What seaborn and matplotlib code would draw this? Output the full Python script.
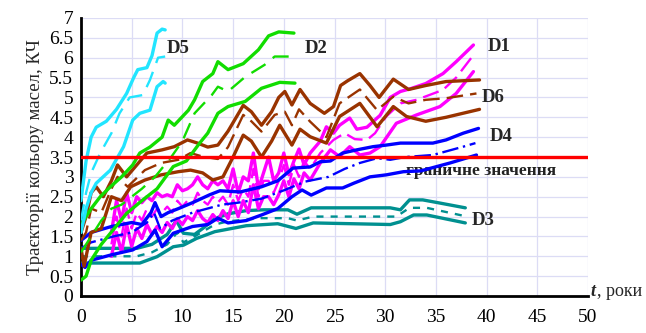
import matplotlib
matplotlib.use("Agg")
import matplotlib.pyplot as plt
import seaborn as sns
import numpy as np

# ---- data (t in years, colour index KЧ) ----
# D5 (cyan)
d5_hi_x = [0, 0.5, 1, 1.5, 2.5, 3.5, 4.5, 5.2, 5.6, 6.5, 7, 7.5, 8, 8.3]
d5_hi_y = [2.4, 3.4, 4.0, 4.25, 4.4, 4.7, 5.1, 5.5, 5.7, 5.75, 6.05, 6.62, 6.72, 6.7]
d5_md_x = [0, 0.5, 1, 1.9, 3, 3.8, 4.8, 6.1, 6.8, 7.6, 8.3]
d5_md_y = [1.9, 2.6, 3.1, 3.6, 4.1, 4.6, 5.0, 5.06, 5.44, 6.0, 6.03]
d5_lo_x = [0, 0.5, 1, 1.5, 2.9, 4.2, 5.1, 5.8, 6.8, 7.5, 8.1, 8.3]
d5_lo_y = [1.6, 2.2, 2.6, 2.84, 3.17, 3.76, 4.43, 4.6, 4.68, 5.27, 5.4, 5.36]

# D2 (green)
d2_hi_x = [0, 1, 1.9, 2.9, 4, 5.1, 5.8, 6.8, 8, 8.6, 9.2, 10.6, 11.2, 12, 13, 13.5, 14.5, 16, 17.5, 18.5, 19.5, 21]
d2_hi_y = [1.8, 2.2, 2.5, 2.75, 3.0, 3.3, 3.6, 3.75, 4.0, 4.43, 4.3, 4.68, 4.94, 5.4, 5.6, 5.9, 5.7, 5.85, 6.2, 6.55, 6.65, 6.62]
d2_md_x = [0, 1, 2, 3, 4, 5, 6, 7.3, 8.9, 10, 11.2, 12.9, 13.5, 14.5, 16.2, 18.1, 19.1, 21.1]
d2_md_y = [1.1, 1.5, 1.9, 2.2, 2.3, 2.5, 2.7, 3.0, 3.5, 3.9, 4.6, 5.06, 5.27, 5.15, 5.52, 5.82, 6.03, 6.03]
d2_lo_x = [0, 0.5, 1, 2, 2.9, 4.5, 6.1, 7.5, 9.1, 10.4, 11.7, 12.5, 13.5, 14.5, 16.2, 17.8, 19.6, 21.1]
d2_lo_y = [0.4, 0.5, 0.9, 1.3, 1.58, 2.08, 2.42, 2.7, 3.26, 3.4, 3.85, 4.1, 4.6, 4.77, 4.9, 5.23, 5.38, 5.36]

# D6 (brown)
d6_hi_x = [0, 0.5, 1, 1.5, 2.2, 3, 3.6, 4.5, 5.5, 6.5, 8, 9.2, 10.5, 11.5, 12.5, 13.5, 14.5, 16, 16.8, 17.8, 18.8,
           19.5, 20.1, 20.8, 21.6, 22.6, 24, 24.9, 25.6, 26.3, 27.5, 28.5, 29.4, 30.8, 32.3, 34, 36, 39.3]
d6_hi_y = [1.6, 2.0, 2.6, 2.75, 2.5, 2.9, 3.3, 3.0, 3.3, 3.6, 3.68, 3.76, 3.93, 3.85, 3.75, 3.8, 4.15, 4.8, 4.64, 4.3, 4.64,
           5.0, 5.15, 4.81, 5.2, 4.85, 4.6, 4.77, 5.3, 5.42, 5.6, 5.3, 5.0, 5.46, 5.2, 5.3, 5.4, 5.44]
d6_md_x = [0, 0.5, 1, 2, 3, 3.6, 4.6, 6.3, 7.9, 9.6, 10.8, 12, 13.5, 14.5, 16, 16.8, 17.8, 19.1, 20.1, 20.8, 21.5,
           22.6, 24.2, 25.5, 27.5, 29.2, 30.8, 32.3, 34, 36, 39]
d6_md_y = [1.4, 1.6, 2.2, 2.1, 2.7, 3.0, 2.75, 3.17, 3.35, 3.43, 3.6, 3.51, 3.45, 3.75, 4.56, 4.4, 4.14, 4.56, 4.64, 4.3, 4.7,
           4.39, 4.0, 4.85, 5.2, 4.68, 5.02, 4.85, 4.94, 4.98, 5.1]
d6_lo_x = [0, 0.3, 1, 2, 3, 4, 4.9, 6.3, 7.9, 9.6, 10.8, 12, 13, 14, 15, 16, 16.8, 17.8, 18.8, 19.6, 20.8, 21.6,
           22.6, 24.2, 25.5, 27.5, 29.2, 30.8, 32.1, 34, 36, 39.3]
d6_lo_y = [1.2, 0.75, 1.6, 1.7, 2.5, 2.4, 2.75, 2.92, 3.05, 3.13, 3.17, 3.1, 2.92, 3.0, 3.5, 4.05, 3.9, 3.5, 3.9, 4.3, 3.8, 4.2,
           4.01, 3.85, 4.52, 4.85, 4.26, 4.77, 4.52, 4.4, 4.5, 4.7]

# D1 (magenta)
d1_hi_x = [3, 3.5, 4, 4.5, 5, 5.5, 6, 6.5, 7, 7.5, 8, 8.5, 9, 9.5, 10, 10.5, 11, 11.5, 12, 12.5, 13, 13.5, 14, 14.5,
           15, 15.5, 16, 16.5, 17, 17.5, 18, 18.5, 19, 19.5, 20, 20.5, 21, 21.5, 22, 22.6, 23.6, 24.2, 24.9, 25.5,
           26.5, 27.2, 28.2, 29.5, 30.5, 31.5, 32.5, 34, 35.7, 37, 38.7]
d1_hi_y = [1.6, 2.4, 1.9, 2.6, 2.1, 2.5, 2.35, 2.5, 2.4, 2.6, 2.5, 2.55, 2.5, 2.8, 2.65, 2.7, 2.8, 3.0, 2.8, 2.7, 2.9,
           2.8, 2.9, 2.7, 3.2, 2.6, 3.0, 2.9, 3.6, 2.7, 3.1, 3.5, 2.9, 3.1, 3.6, 3.05, 3.4, 3.7, 3.3, 3.6, 3.9, 4.26,
           4.1, 4.3, 4.48, 4.2, 4.25, 4.55, 5.0, 5.15, 5.22, 5.35, 5.6, 5.9, 6.32]
d1_md_x = [3, 3.5, 4, 4.5, 5, 5.5, 6, 6.5, 7, 7.5, 8, 8.5, 9, 9.5, 10, 10.5, 11, 11.5, 12, 12.5, 13, 13.5, 14, 14.5,
           15, 15.5, 16, 16.5, 17, 17.5, 18, 18.5, 19, 19.5, 20, 20.5, 21, 21.5, 22, 22.6, 23.6, 24.9, 26, 27, 28.2,
           29, 30.1, 31.5, 33.1, 35.7, 37, 38.5]
d1_md_y = [1.3, 2.0, 1.5, 2.2, 1.7, 2.1, 1.9, 2.2, 2.0, 2.2, 2.1, 2.25, 2.1, 2.4, 2.25, 2.4, 2.3, 2.6, 2.4, 2.3, 2.5,
           2.35, 2.5, 2.3, 2.8, 2.4, 2.7, 2.5, 3.2, 2.5, 2.9, 2.9, 2.6, 2.9, 3.3, 2.8, 3.3, 3.0, 3.4, 3.2, 3.6, 3.93,
           4.1, 3.95, 3.93, 4.1, 4.52, 4.85, 4.94, 5.19, 5.5, 6.0]
d1_lo_x = [3, 3.5, 4, 4.5, 5, 5.5, 6, 6.5, 7, 7.5, 8, 8.5, 9, 9.5, 10, 10.5, 11, 11.5, 12, 12.5, 13, 13.5, 14, 14.5,
           15, 15.5, 16, 16.5, 17, 17.5, 18, 18.5, 19, 19.5, 20, 20.5, 21, 21.5, 22, 22.6, 23.6, 24.6, 25.5, 26.5,
           27.5, 28.5, 29.5, 31.1, 33.1, 35.4, 37, 38.7]
d1_lo_y = [1.0, 1.6, 1.1, 1.8, 1.25, 1.7, 1.45, 1.8, 1.55, 1.75, 1.6, 1.85, 1.7, 1.95, 1.8, 2.0, 1.9, 2.15, 1.95, 1.85,
           2.05, 1.9, 2.15, 1.95, 2.4, 2.0, 2.4, 2.1, 2.8, 2.2, 2.5, 2.5, 2.3, 2.55, 2.9, 2.5, 2.95, 2.7, 3.1, 2.92,
           3.35, 3.68, 3.51, 3.76, 3.55, 3.6, 3.76, 4.35, 4.56, 4.77, 5.1, 5.65]

# D4 (blue)
d4_hi_x = [0, 1, 3, 5, 6, 6.9, 7.3, 7.9, 8.6, 9.6, 11, 12.7, 13.7, 15.7, 17.8, 19.4, 20.9, 22.6, 23.6, 24.6, 25.8,
           27.2, 28.8, 30.1, 31.5, 34.7, 36, 37.7, 39.2]
d4_hi_y = [1.4, 1.6, 1.75, 1.85, 1.8, 2.1, 2.35, 2.0, 2.1, 2.2, 2.35, 2.55, 2.65, 2.62, 2.75, 2.9, 3.22, 3.25, 3.38, 3.4,
           3.6, 3.68, 3.76, 3.8, 3.85, 3.85, 3.93, 4.1, 4.22]
d4_md_x = [0, 1, 3.2, 5, 6.5, 7.2, 7.8, 9, 11, 13.9, 15.5, 17.8, 20.1, 22.1, 24.4, 26, 27.5, 29.2, 30.5, 32, 34.7,
           37.7, 38.9]
d4_md_y = [1.2, 1.35, 1.5, 1.6, 1.85, 2.1, 1.7, 1.9, 2.1, 2.3, 2.35, 2.45, 2.67, 2.88, 3.0, 3.2, 3.35, 3.47, 3.43, 3.5,
           3.55, 3.76, 3.85]
d4_lo_x = [0, 0.4, 1, 3.2, 5.1, 6.5, 7.3, 8, 9.1, 11, 12.5, 13.5, 14.5, 16.3, 17.8, 19.4, 20.8, 21.8, 22.7, 24.2,
           25.8, 26.9, 28.5, 30.1, 31.8, 33.5, 36.4, 39]
d4_lo_y = [0.8, 0.72, 0.9, 1.05, 1.16, 1.37, 1.66, 1.24, 1.58, 1.75, 1.8, 1.96, 1.84, 1.9, 2.04, 2.2, 2.5, 2.67, 2.54,
           2.72, 2.72, 2.84, 3.0, 3.05, 3.13, 3.15, 3.35, 3.55]

# D3 (teal)
d3_hi_x = [0, 1, 5.5, 7, 8.5, 9.4, 10.1, 11.2, 12, 13.2, 14.5, 16.3, 18, 20.4, 21.3, 22.7, 24.4, 30.5, 31.5, 32.4,
           33.7, 35.4, 37.9]
d3_hi_y = [1.2, 1.2, 1.2, 1.3, 1.55, 1.9, 1.58, 1.55, 1.7, 1.95, 2.07, 2.15, 2.17, 2.17, 2.06, 2.22, 2.22, 2.22, 2.17,
           2.42, 2.42, 2.34, 2.22]
d3_md_x = [0, 5.5, 7, 8.5, 9.5, 10.1, 11.2, 13.2, 14.5, 17.7, 20.4, 21.3, 22.9, 31.1, 32.4, 34.1, 37.9]
d3_md_y = [1.0, 1.0, 1.1, 1.3, 1.6, 1.35, 1.5, 1.8, 1.88, 1.96, 1.96, 1.9, 2.0, 2.0, 2.22, 2.22, 2.01]
d3_lo_x = [0, 5.8, 7.5, 9.1, 10.1, 11.4, 13.2, 16.3, 19.4, 21.2, 22.9, 30.5, 31.5, 32.8, 34.1, 37.9]
d3_lo_y = [0.83, 0.83, 0.99, 1.24, 1.28, 1.45, 1.62, 1.77, 1.82, 1.7, 1.84, 1.8, 1.87, 2.04, 2.04, 1.84]

limit_value = 3.5
x_ticks = np.arange(0, 51, 5)
y_ticks = np.arange(0, 7.01, 0.5)

# label name, x, y
series_labels = [("D5", 8.5, 6.22), ("D2", 22.1, 6.22), ("D1", 40.1, 6.27),
                 ("D6", 39.5, 5.0), ("D4", 40.3, 4.01), ("D3", 38.5, 1.89)]

sns.set_style("white")
plt.rcParams['font.family'] = ['Liberation Serif', 'DejaVu Serif']

fig = plt.figure(figsize=(6.46, 3.33), dpi=100)
ax = fig.add_axes([81/646, 1-296/333, 507/646, 278/333])


def draw(xs, ys, color, dashed=False, dash=(7, 3)):
    lw = 1.7 if dashed else 2.4
    sns.lineplot(x=xs, y=ys, ax=ax, color=color, linewidth=lw,
                 estimator=None, sort=False, zorder=3)
    line = ax.lines[-1]
    if dashed:
        line.set_dashes(dash)
    line.set_solid_joinstyle('round')
    line.set_solid_capstyle('round')


groups = [
    ('#009090', d3_hi_x, d3_hi_y, d3_md_x, d3_md_y, d3_lo_x, d3_lo_y, (3, 3)),
    ('#ff00ff', d1_hi_x, d1_hi_y, d1_md_x, d1_md_y, d1_lo_x, d1_lo_y, (7, 3)),
    ('#0000ff', d4_hi_x, d4_hi_y, d4_md_x, d4_md_y, d4_lo_x, d4_lo_y, (7, 2, 1, 2)),
    ('#993300', d6_hi_x, d6_hi_y, d6_md_x, d6_md_y, d6_lo_x, d6_lo_y, (7, 3)),
    ('#11dd00', d2_hi_x, d2_hi_y, d2_md_x, d2_md_y, d2_lo_x, d2_lo_y, (7, 4)),
    ('#22e5ff', d5_hi_x, d5_hi_y, d5_md_x, d5_md_y, d5_lo_x, d5_lo_y, (7, 4)),
]
for col, hx, hy, mx, my, lx, ly, dash in groups:
    draw(lx, ly, col)
    draw(mx, my, col, dashed=True, dash=dash)
    draw(hx, hy, col)

ax.axhline(limit_value, color='#ff0000', linewidth=2.4, zorder=5)

ax.set_xlim(0, 50)
ax.set_ylim(0, 7)
ax.set_xticks(x_ticks)
ax.set_yticks(y_ticks)
ax.set_yticklabels([f"{v:g}" for v in y_ticks])
ax.grid(True, color='#dcdcf5', linewidth=0.9, zorder=0)
ax.set_axisbelow(True)
for s in ['top', 'right']:
    ax.spines[s].set_visible(False)
for s in ['left', 'bottom']:
    ax.spines[s].set_linewidth(2.0)
    ax.spines[s].set_color('black')
ax.tick_params(axis='both', direction='out', length=3.5, width=1.8, colors='black',
               labelsize=14)
ax.tick_params(axis='x', pad=6)
ax.tick_params(axis='y', pad=2)
ax.set_xlabel("")
ax.set_ylabel("Траєкторії кольору масел, КЧ", fontsize=13.5, labelpad=4)

for name, lx, ly in series_labels:
    ax.text(lx, ly, name, fontsize=13.5, fontweight='bold', ha='left', va='center', zorder=6)

ax.text(32.1, 3.15, "граничне значення", fontsize=12.5, fontweight='bold',
        color='#222222', ha='left', va='center', zorder=2)

fig.text(590/646, 1-292/333, "t", fontsize=13, fontweight='bold', fontstyle='italic',
         ha='left', va='center')
fig.text(597/646, 1-292/333, ", роки", fontsize=13, ha='left', va='center')

fig.savefig("out.png", dpi=100)
